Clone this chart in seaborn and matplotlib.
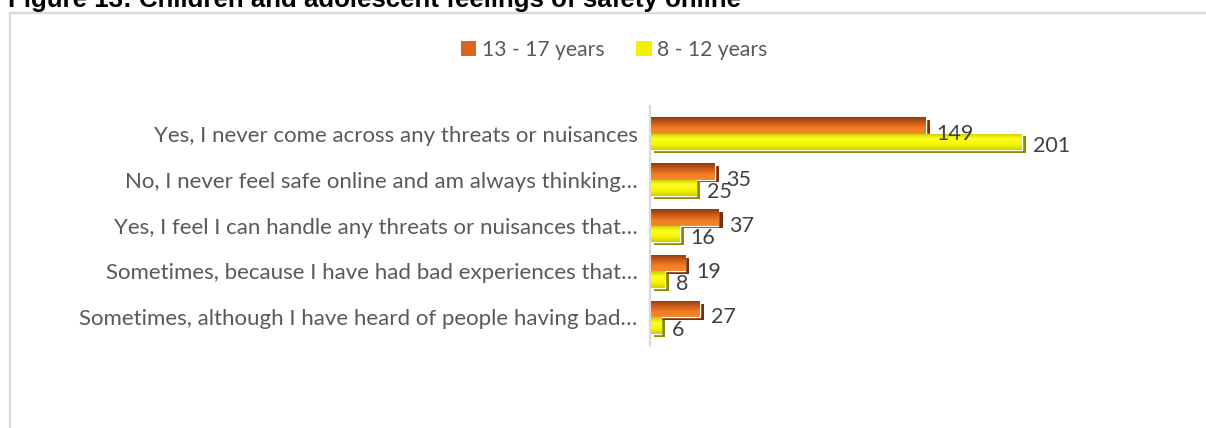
import numpy as np
import pandas as pd
import matplotlib
matplotlib.use("Agg")
import matplotlib.pyplot as plt
import matplotlib.patheffects as pe
from matplotlib.colors import LinearSegmentedColormap
from matplotlib.patches import Rectangle
import seaborn as sns

# Survey answers and counts per age group
answers = [
    "Yes, I never come across any threats or nuisances",
    "No, I never feel safe online and am always thinking\u2026",
    "Yes, I feel I can handle any threats or nuisances that\u2026",
    "Sometimes, because I have had bad experiences that\u2026",
    "Sometimes, although I have heard of people having bad\u2026",
]
groups = ["13 - 17 years", "8 - 12 years"]
teens = [149, 35, 37, 19, 27]
kids = [201, 25, 16, 8, 6]

df = pd.DataFrame({
    "answer": answers * 2,
    "group": [groups[0]] * len(answers) + [groups[1]] * len(answers),
    "count": teens + kids,
})

sns.set_theme(style="white")
plt.rcParams["font.family"] = ["Lato", "DejaVu Sans"]

W, H = 1206, 428
fig = plt.figure(figsize=(W / 100, H / 100), dpi=100)

# Chart frame
fig.patches.append(Rectangle((10 / W, -0.1), 1.2, (H - 12.5) / H + 0.1,
                             transform=fig.transFigure, fill=False,
                             edgecolor="#D9D9D9", linewidth=1.6, zorder=0))

# Title, running off the top edge
fig.text(8 / W, 1 - 6.5 / H, "Figure 13: Children and adolescent feelings of safety online",
         family="Liberation Sans", fontweight="bold", fontsize=18.6,
         va="baseline", ha="left", color="#000000")

left, right = 650, 1129
top, bottom = 106, 345
ax = fig.add_axes([left / W, (H - bottom) / H, (right - left) / W, (bottom - top) / H])

palette = {groups[0]: "#E8741E", groups[1]: "#F2F200"}
sns.barplot(data=df, y="answer", x="count", hue="group", order=answers,
            hue_order=groups, palette=palette, orient="h", width=0.72,
            ax=ax, legend=False, saturation=1)

ax.set_xlabel("")
ax.set_ylabel("")
ax.set_xticks([])
for s in ["top", "right", "bottom"]:
    ax.spines[s].set_visible(False)
ax.spines["left"].set_color("#D9D9D9")
ax.spines["left"].set_linewidth(1.6)
ax.tick_params(axis="y", length=0, pad=9)
for t in ax.get_yticklabels():
    t.set_color("#595959")
    t.set_fontsize(16.0)

# Gradient fills giving the bars a shaded, bevelled look
cmaps = {
    groups[0]: LinearSegmentedColormap.from_list("o", ["#8E3A10", "#C85A18", "#F47B22", "#F38A30"]),
    groups[1]: LinearSegmentedColormap.from_list("y", ["#C8C800", "#FFFF20", "#F6F600", "#D0D000"]),
}
side = {groups[0]: "#7A300C", groups[1]: "#8C8C00"}
grad = np.linspace(0, 1, 64).reshape(-1, 1)
label_dy = {groups[0]: -6, groups[1]: -3}

for g, cont in zip(groups, ax.containers):
    for patch, val in zip(cont.patches, cont.datavalues):
        patch.set_path_effects([
            pe.SimplePatchShadow(offset=(3, -2), shadow_rgbFace=side[g], alpha=1.0),
            pe.Normal(),
        ])
        x0, y0 = patch.get_x(), patch.get_y()
        w, h = patch.get_width(), patch.get_height()
        im = ax.imshow(grad, cmap=cmaps[g], aspect="auto",
                       extent=(x0, x0 + w, y0 + h, y0), zorder=patch.get_zorder() + 0.1,
                       interpolation="bilinear")
        im.set_clip_path(patch)
        ax.annotate(f"{val:g}", xy=(x0 + w, y0 + h / 2), xytext=(8, label_dy[g]),
                    textcoords="offset points", ha="left", va="center",
                    fontsize=15.5, color="#404040")

ax.set_xlim(0, 259)
ax.set_ylim(4.6, -0.6)

# Legend
handles = [Rectangle((0, 0), 1, 1, facecolor=c, edgecolor="none")
           for c in ["#D8661C", "#F2F200"]]
fig.legend(handles, groups, loc="center", bbox_to_anchor=(614 / W, 1 - 50 / H),
           ncol=2, frameon=False, fontsize=15.2, handlelength=0.75, handleheight=0.75,
           handletextpad=0.25, columnspacing=1.5, labelcolor="#595959")

fig.savefig("out.png", dpi=100)
